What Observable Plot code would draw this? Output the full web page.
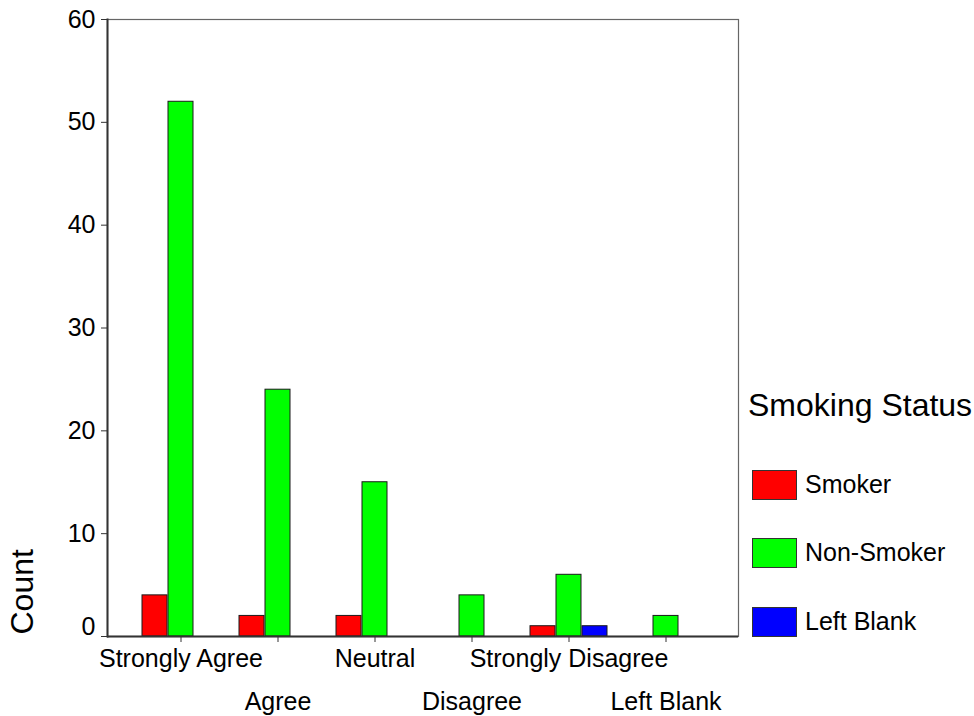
<!DOCTYPE html>
<html>
<head>
<meta charset="utf-8">
<script src="https://cdn.jsdelivr.net/npm/d3@7"></script>
<script src="https://cdn.jsdelivr.net/npm/@observablehq/plot@0.6"></script>
<style>
  html, body { margin: 0; padding: 0; background: #fff; }
  #wrap { position: relative; width: 974px; height: 716px; font-family: "Liberation Sans", Arial, sans-serif; color: #000; }
  #legend { position: absolute; left: 0; top: 0; }
  .lg-title { position: absolute; left: 748px; top: 389px; font-size: 32px; line-height: 32px; white-space: nowrap; }
  .lg-item { position: absolute; left: 752px; display: flex; align-items: center; height: 29px; }
  .lg-sw { width: 43px; height: 28px; border: 1px solid #333; box-sizing: content-box; margin-right: 8px; }
  .lg-tx { font-size: 25px; line-height: 25px; white-space: nowrap; }
</style>
</head>
<body>
<div id="wrap"></div>
<script>
const categories = ["Strongly Agree", "Agree", "Neutral", "Disagree", "Strongly Disagree", "Left Blank"];
const statuses = ["Smoker", "Non-Smoker", "Left Blank"];
const smoker = [4, 2, 2, 0, 1, 0];
const nonSmoker = [52, 24, 15, 4, 6, 2];
const leftBlank = [0, 0, 0, 0, 1, 0];
const yTicks = [0, 10, 20, 30, 40, 50, 60];
const colors = ["#ff0000", "#00ff00", "#0000ff"];
const legendTitle = "Smoking Status";
const yLabel = "Count";

const series = [smoker, nonSmoker, leftBlank];
const rows = [];
statuses.forEach((s, i) => categories.forEach((c, j) => rows.push({category: c, status: s, count: series[i][j]})));

const barMarks = statuses.map((s, i) =>
  Plot.barY(rows.filter(d => d.status === s && d.count > 0), {
    x: "category", y: "count", fill: "status",
    stroke: "#1a1a1a", strokeWidth: 1,
    insetLeft: 36, insetRight: 36, dx: (i - 1) * 26
  })
);

const chart = Plot.plot({
  width: 974,
  height: 716,
  marginLeft: 107,
  marginRight: 236,
  marginTop: 19,
  marginBottom: 80,
  style: {fontFamily: "'Liberation Sans', Arial, sans-serif", fontSize: "25px", color: "#000", background: "#fff", overflow: "visible"},
  x: {domain: categories, paddingInner: 0, paddingOuter: 0.22},
  y: {domain: [0, 60]},
  color: {domain: statuses, range: colors},
  marks: [
    Plot.frame({stroke: "#666", strokeWidth: 1.2}),
    ...barMarks,
    Plot.frame({anchor: "left", stroke: "#333", strokeWidth: 2}),
    Plot.ruleY([0], {stroke: "#333", strokeWidth: 2}),
    Plot.axisY({ticks: yTicks, tickSize: 6, tickPadding: 6, fontSize: 25, stroke: "#333", tickFormat: d => d === 0 ? "" : d, label: null}),
    Plot.axisY({ticks: [0], tickSize: 0, tickPadding: 12, fontSize: 25, dy: -10, label: null}),
    Plot.text([yLabel], {text: d => d, frameAnchor: "bottom-left", rotate: -90, textAnchor: "start", lineAnchor: "top", dx: -97, dy: -2, fontSize: 32, fill: "#000"}),
    Plot.axisX({ticks: categories.filter((c, i) => i % 2 === 0), tickSize: 6, tickPadding: 7, fontSize: 25, stroke: "#333", label: null}),
    Plot.axisX({ticks: categories.filter((c, i) => i % 2 === 1), tickSize: 6, tickPadding: 50, fontSize: 25, stroke: "#333", label: null})
  ]
});

const wrap = document.getElementById("wrap");
wrap.appendChild(chart);

const legend = document.createElement("div");
legend.id = "legend";
const t = document.createElement("div");
t.className = "lg-title";
t.textContent = legendTitle;
legend.appendChild(t);
const tops = [470, 538, 607];
statuses.forEach((s, i) => {
  const item = document.createElement("div");
  item.className = "lg-item";
  item.style.top = tops[i] + "px";
  const sw = document.createElement("div");
  sw.className = "lg-sw";
  sw.style.background = colors[i];
  const tx = document.createElement("span");
  tx.className = "lg-tx";
  tx.textContent = s;
  item.appendChild(sw);
  item.appendChild(tx);
  legend.appendChild(item);
});
wrap.appendChild(legend);
</script>
</body>
</html>
